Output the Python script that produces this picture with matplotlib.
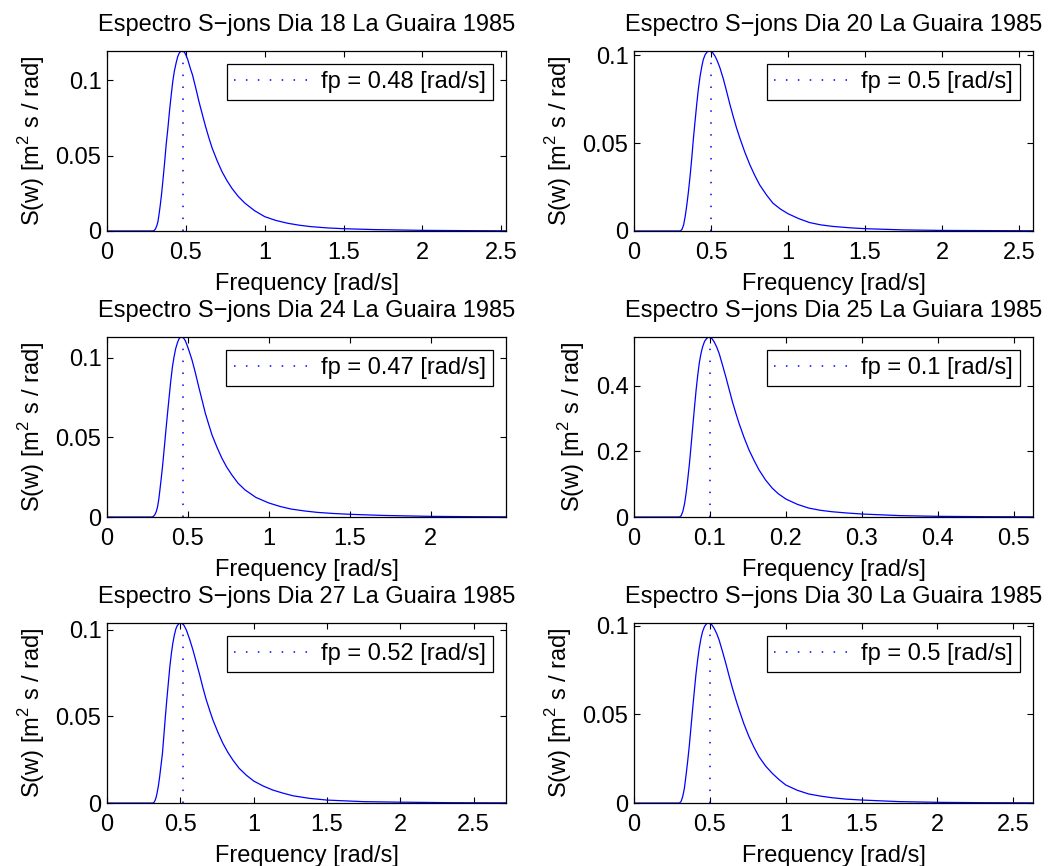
import matplotlib
matplotlib.use('Agg')
import matplotlib.pyplot as plt
from matplotlib.ticker import FormatStrFormatter, MultipleLocator

plt.rcParams['font.family'] = ['Liberation Sans', 'DejaVu Sans']
plt.rcParams['mathtext.fontset'] = 'custom'
plt.rcParams['mathtext.rm'] = 'Liberation Sans'
plt.rcParams['font.size'] = 17

# values
days = [18, 20, 24, 25, 27, 30]
places = ['La Guaira', 'La Guaira', 'La Guaira', 'La Guiara', 'La Guaira', 'La Guaira']
fp = [0.48, 0.5, 0.47, 0.1, 0.52, 0.5]

w18 = [0, 0.292, 0.300, 0.308, 0.316, 0.323, 0.330, 0.338, 0.346, 0.354, 0.365, 0.375, 0.386, 0.396,
       0.407, 0.417, 0.427, 0.438, 0.448, 0.458, 0.469, 0.479, 0.49, 0.5, 0.511, 0.521, 0.531, 0.542,
       0.5625, 0.583, 0.604, 0.625, 0.646, 0.667, 0.698, 0.729, 0.76, 0.792, 0.833, 0.875, 0.935, 1.0,
       1.07, 1.146, 1.22, 1.29, 1.4, 1.5, 1.7, 2.0, 2.3, 2.53]
s18 = [0, 0, 0.0004, 0.0015, 0.0035, 0.0062, 0.011, 0.0173, 0.0245, 0.0328, 0.045, 0.0571, 0.068, 0.0792,
       0.090, 0.0991, 0.106, 0.1113, 0.1155, 0.118, 0.1193, 0.1195, 0.1188, 0.1168, 0.114, 0.1105, 0.107, 0.1036,
       0.095, 0.0859, 0.0775, 0.0693, 0.0618, 0.0549, 0.0467, 0.0394, 0.0335, 0.0283, 0.0228, 0.0184, 0.0135, 0.0095,
       0.0070, 0.0051, 0.0038, 0.0029, 0.0020, 0.0015, 0.0009, 0.0004, 0.0002, 0.0001]

w20 = [0, 0.30, 0.311, 0.322, 0.332, 0.343, 0.354, 0.365, 0.376, 0.386, 0.397, 0.408, 0.418, 0.429,
       0.44, 0.45, 0.463, 0.476, 0.487, 0.498, 0.512, 0.526, 0.542, 0.558, 0.58, 0.601, 0.622, 0.644,
       0.665, 0.687, 0.72, 0.752, 0.784, 0.816, 0.86, 0.902, 0.95, 1.0, 1.07, 1.139, 1.21, 1.289,
       1.4, 1.5, 1.75, 2.0, 2.3, 2.59]
s20 = [0, 0, 0.0008, 0.0034, 0.0081, 0.0148, 0.0228, 0.032, 0.0424, 0.0529, 0.063, 0.0728, 0.0808, 0.088,
       0.0935, 0.0976, 0.1005, 0.102, 0.1025, 0.1025, 0.1013, 0.0995, 0.0965, 0.0928, 0.0865, 0.0795, 0.0722, 0.0652,
       0.0588, 0.0529, 0.0447, 0.0377, 0.0316, 0.0262, 0.0205, 0.0158, 0.0125, 0.0098, 0.0070, 0.0048, 0.0035, 0.0026,
       0.0018, 0.0013, 0.0006, 0.0003, 0.0002, 0.0001]

w24 = [0, 0.278, 0.287, 0.296, 0.305, 0.313, 0.32, 0.327, 0.335, 0.343, 0.354, 0.364, 0.374, 0.384,
       0.394, 0.404, 0.414, 0.424, 0.435, 0.445, 0.454, 0.463, 0.474, 0.485, 0.495, 0.505, 0.516, 0.526,
       0.547, 0.567, 0.588, 0.608, 0.629, 0.649, 0.68, 0.71, 0.74, 0.771, 0.81, 0.852, 0.92, 1.0,
       1.07, 1.137, 1.22, 1.3, 1.4, 1.5, 1.7, 2.0, 2.25, 2.465]
s24 = [0, 0, 0.0004, 0.0015, 0.0036, 0.0067, 0.0112, 0.0171, 0.0242, 0.0317, 0.0435, 0.0546, 0.0652, 0.0755,
       0.0855, 0.0942, 0.1005, 0.1057, 0.1095, 0.112, 0.113, 0.1132, 0.1124, 0.1105, 0.1079, 0.105, 0.1016, 0.0984,
       0.0902, 0.0817, 0.0732, 0.065, 0.058, 0.0515, 0.0437, 0.0369, 0.0313, 0.0265, 0.0212, 0.0171, 0.0123, 0.0088,
       0.0066, 0.005, 0.0038, 0.0029, 0.0022, 0.0017, 0.001, 0.0004, 0.0002, 0.0001]

w25 = [0, 0.0599, 0.0621, 0.0643, 0.0665, 0.0686, 0.0708, 0.073, 0.0752, 0.0773, 0.0795, 0.0817, 0.0839,
       0.0861, 0.0883, 0.0904, 0.093, 0.0956, 0.0978, 0.1, 0.1028, 0.1057, 0.109, 0.1122, 0.1165, 0.1209,
       0.1252, 0.1296, 0.134, 0.1383, 0.1448, 0.1514, 0.158, 0.1645, 0.173, 0.1819, 0.19, 0.2, 0.215,
       0.2298, 0.245, 0.2603, 0.28, 0.3, 0.35, 0.4, 0.46, 0.525]
s25 = [0, 0, 0.004, 0.0172, 0.040, 0.0727, 0.116, 0.1635, 0.219, 0.2745, 0.331, 0.3855, 0.432,
       0.4712, 0.499, 0.5186, 0.535, 0.543, 0.547, 0.548, 0.542, 0.532, 0.516, 0.4965, 0.462, 0.4258,
       0.388, 0.350, 0.316, 0.2845, 0.242, 0.2038, 0.172, 0.1433, 0.113, 0.0878, 0.0705, 0.0545, 0.0385,
       0.0272, 0.0205, 0.0161, 0.0122, 0.0091, 0.0042, 0.002, 0.001, 0.0005]

w27 = [0, 0.314, 0.321, 0.328, 0.335, 0.341, 0.35, 0.359, 0.368, 0.378, 0.388, 0.398, 0.408, 0.418,
       0.428, 0.439, 0.449, 0.459, 0.469, 0.479, 0.493, 0.507, 0.524, 0.541, 0.563, 0.586, 0.609, 0.632,
       0.654, 0.677, 0.7, 0.722, 0.756, 0.79, 0.824, 0.858, 0.9, 0.949, 1.0, 1.065, 1.13, 1.2,
       1.267, 1.38, 1.5, 1.75, 2.0, 2.35, 2.72]
s27 = [0, 0, 0.0005, 0.0015, 0.0033, 0.0056, 0.0097, 0.0152, 0.0215, 0.0286, 0.0392, 0.0498, 0.0598, 0.069,
       0.0782, 0.0863, 0.0922, 0.0967, 0.1002, 0.1022, 0.1036, 0.1038, 0.1025, 0.0997, 0.0945, 0.0882, 0.081, 0.0738,
       0.0664, 0.0594, 0.0534, 0.0479, 0.0408, 0.0344, 0.0292, 0.0248, 0.0201, 0.0161, 0.0127, 0.0098, 0.0075, 0.0057,
       0.0042, 0.0027, 0.0017, 0.0008, 0.0005, 0.0002, 0.0001]

w30 = [0, 0.299, 0.31, 0.321, 0.332, 0.342, 0.353, 0.364, 0.375, 0.386, 0.397, 0.408, 0.419, 0.43,
       0.441, 0.452, 0.465, 0.478, 0.489, 0.5, 0.514, 0.528, 0.545, 0.561, 0.583, 0.605, 0.627, 0.649,
       0.671, 0.693, 0.725, 0.758, 0.791, 0.824, 0.868, 0.912, 0.956, 1.0, 1.076, 1.152, 1.23, 1.305,
       1.4, 1.5, 1.75, 2.0, 2.3, 2.63]
s30 = [0, 0, 0.0008, 0.0036, 0.0082, 0.0149, 0.0229, 0.0318, 0.0421, 0.0525, 0.0625, 0.0722, 0.0803, 0.0872,
       0.0926, 0.0966, 0.0995, 0.101, 0.1015, 0.1015, 0.1003, 0.0985, 0.0955, 0.0919, 0.0855, 0.0788, 0.0716, 0.0647,
       0.0584, 0.0525, 0.0445, 0.0374, 0.0314, 0.0261, 0.0208, 0.0167, 0.0132, 0.0102, 0.0072, 0.0051, 0.0039, 0.003,
       0.0022, 0.0017, 0.0008, 0.0004, 0.0002, 0.0001]

freqs = [w18, w20, w24, w25, w27, w30]
specs = [s18, s20, s24, s25, s27, s30]
xsteps = [0.5, 0.5, 0.5, 0.1, 0.5, 0.5]
ysteps = [0.05, 0.05, 0.05, 0.2, 0.05, 0.05]

fig = plt.figure(figsize=(10.5, 8.66), dpi=100)

lefts = [0.1019, 0.6038]
bottoms = [0.7333, 0.403, 0.0727]

for i in range(6):
    row = i // 2
    col = i % 2
    ax = fig.add_axes([lefts[col], bottoms[row], 0.38, 0.208])
    w = freqs[i]
    s = specs[i]
    smax = max(s)
    ax.plot(w, s, color='b', lw=0.9)
    peak_line, = ax.plot([fp[i], fp[i]], [0, smax], color='b', lw=1.1,
                         linestyle=(0, (1, 6.8)))
    ax.set_xlim(0, w[-1])
    ax.set_ylim(0, smax)
    ax.xaxis.set_major_locator(MultipleLocator(xsteps[i]))
    ax.yaxis.set_major_locator(MultipleLocator(ysteps[i]))
    ax.xaxis.set_major_formatter(FormatStrFormatter('%g'))
    ax.yaxis.set_major_formatter(FormatStrFormatter('%g'))
    ax.tick_params(direction='in', top=True, right=True, length=4, width=0.8, labelsize=17)
    ax.tick_params(axis='x', pad=8)
    ax.tick_params(axis='y', pad=4)
    for sp in ax.spines.values():
        sp.set_linewidth(0.9)
    ax.set_xlabel('Frequency [rad/s]', labelpad=6.5)
    ax.set_ylabel('S(w) [m$^{2}$ s / rad]', labelpad=6)
    ax.set_title('Espectro S\u2212jons Dia %d %s 1985' % (days[i], places[i]), fontsize=17, pad=14)
    leg = ax.legend([peak_line], ['fp = %g [rad/s]' % fp[i]], loc='upper right',
                    fancybox=False, edgecolor='black', framealpha=1, handlelength=3.2,
                    handletextpad=0.5, borderpad=0.3, borderaxespad=0.55, fontsize=17)
    leg.get_frame().set_linewidth(0.9)

fig.savefig('out.png', dpi=100)
